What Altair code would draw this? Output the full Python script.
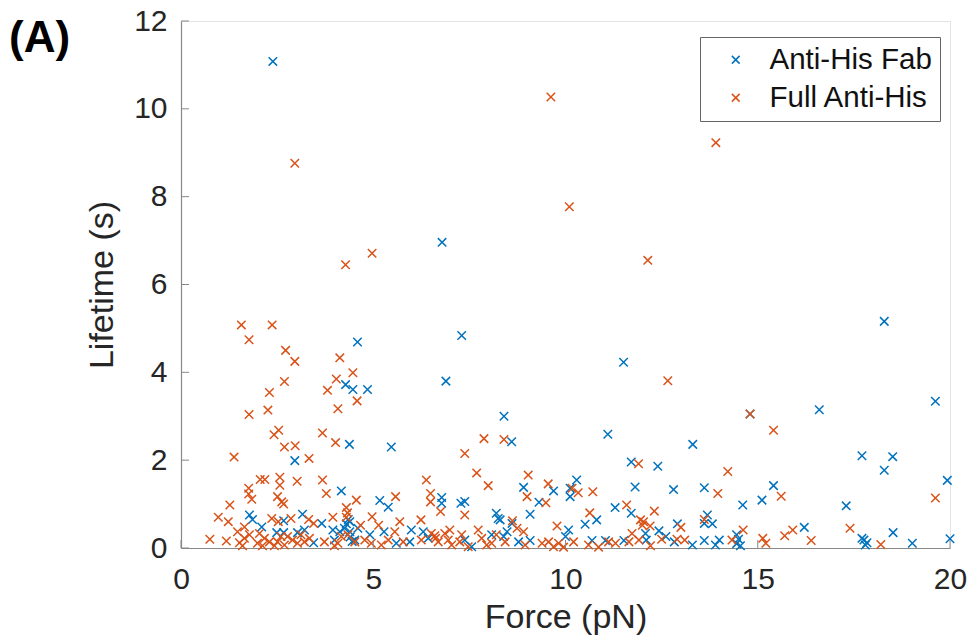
import altair as alt
import pandas as pd

# ---- data ----
fab_force = [2.39, 6.79, 7.30, 4.59, 6.89, 4.28, 4.47, 4.85, 11.51, 18.29, 19.62, 16.60, 14.80, 8.40,
             11.10, 8.60, 4.38, 13.31, 5.47, 17.71, 18.51, 2.96, 11.71, 12.40, 18.29, 19.93, 10.29,
             15.41, 11.81, 8.91, 13.61, 10.12, 12.81, 9.69, 4.17, 10.12, 6.78, 15.11, 5.17, 7.38,
             7.28, 6.78, 9.31, 14.61, 17.30, 5.39, 11.29, 9.08, 11.71, 8.20, 3.16, 1.78, 13.69, 8.25,
             1.86, 10.81, 8.30, 2.67, 4.39, 3.66, 8.61, 13.61, 13.82, 10.51, 12.91, 2.10, 16.21,
             4.60, 3.21, 3.95, 5.99, 10.08, 12.43, 2.49, 2.67, 3.03, 18.52, 4.13, 4.39, 5.28, 6.30,
             8.48, 12.08, 4.91, 8.08, 14.45, 8.39, 10.00, 12.61, 6.43, 17.71, 20.00, 14.50, 3.99,
             7.38, 14.00, 12.10, 17.76, 10.69, 11.04, 11.52, 13.61, 9.08, 5.95, 8.78, 12.83, 3.45,
             17.84, 5.60, 19.02, 14.45, 17.80, 13.30, 13.90, 7.56, 14.55, 4.30, 4.25, 4.35, 4.40,
             4.45, 4.52]
fab_life = [11.08, 6.96, 4.84, 4.69, 3.80, 3.72, 3.61, 3.61, 4.23, 5.16, 3.34, 3.15, 3.05, 3.00,
            2.59, 2.42, 2.36, 2.36, 2.30, 2.10, 2.08, 1.99, 1.96, 1.86, 1.77, 1.54, 1.55,
            1.42, 1.39, 1.38, 1.37, 1.36, 1.33, 1.30, 1.30, 1.17, 1.15, 1.09, 1.08, 1.06,
            1.02, 1.02, 1.04, 0.98, 0.96, 0.93, 0.92, 0.77, 0.79, 0.79, 0.77, 0.75, 0.75, 0.67,
            0.65, 0.64, 0.64, 0.62, 0.60, 0.56, 0.56, 0.56, 0.55, 0.54, 0.55, 0.48, 0.47,
            0.45, 0.41, 0.41, 0.41, 0.41, 0.39, 0.35, 0.35, 0.35, 0.35, 0.37, 0.37, 0.37, 0.37,
            0.37, 0.33, 0.30, 0.30, 0.30, 0.26, 0.26, 0.26, 0.22, 0.22, 0.21, 0.20, 0.18,
            0.18, 0.18, 0.18, 0.18, 0.17, 0.17, 0.17, 0.17, 0.17, 0.14, 0.14, 0.14, 0.12,
            0.12, 0.11, 0.11, 0.10, 0.07, 0.07, 0.07, 0.03, 0.05, 0.55, 0.45, 0.65, 0.25,
            0.15, 0.18]

full_force = [9.62, 13.91, 2.96, 10.10, 4.97, 12.14, 4.28, 1.57, 2.37, 1.77, 2.72, 4.13, 2.96, 4.47,
              4.04, 12.66, 2.69, 3.81, 2.30, 4.58, 4.08, 2.26, 14.80, 1.77, 15.41, 2.54, 3.68, 2.42,
              7.88, 8.40, 4.02, 2.97, 2.69, 7.38, 1.38, 3.33, 11.90, 14.22, 7.69, 9.03, 2.57, 2.06,
              2.18, 6.38, 3.68, 3.02, 9.55, 2.57, 7.99, 1.76, 10.17, 10.33, 10.71, 6.49, 1.76, 3.78,
              13.96, 5.58, 15.61, 2.51, 9.00, 19.62, 1.84, 4.56, 6.49, 2.62, 9.49, 2.67, 1.27, 11.59,
              4.30, 12.31, 6.75, 10.63, 4.33, 7.38, 4.30, 4.97, 0.97, 3.95, 2.36, 2.86, 3.32, 13.61,
              11.95, 6.24, 8.62, 1.23, 2.53, 5.69, 12.03, 3.45, 5.14, 4.67, 12.00, 9.78, 12.20, 1.65,
              13.00, 8.74, 17.40, 14.62, 15.91, 6.99, 7.73, 1.47, 5.56, 8.91, 11.73, 6.86, 7.30, 8.20,
              15.70, 6.60, 6.62, 15.13, 12.50, 12.90, 13.10, 0.75, 14.33, 16.39, 1.18, 15.21, 18.20,
              1.52, 1.65, 1.60, 2.04, 2.17, 1.99, 2.12, 2.30, 2.51, 2.69, 2.77, 2.90, 3.03, 3.12,
              3.21, 3.34, 3.73, 3.99, 1.78, 2.43, 2.60,
              4.08, 4.17, 4.34, 4.78, 4.95, 5.21, 5.78, 6.25, 6.51, 6.69, 6.95, 7.04, 7.25, 7.47,
              7.82, 7.95, 8.08, 4.52, 5.39,
              8.43, 8.95, 9.39, 9.56, 9.69, 9.82, 9.95, 10.21, 10.60, 10.86, 11.12, 11.30, 11.65,
              11.91, 12.21]
full_life = [10.27, 9.23, 8.76, 7.77, 6.71, 6.55, 6.45, 5.08, 5.08, 4.74, 4.50, 4.33, 4.25, 3.99,
             3.85, 3.81, 3.79, 3.59, 3.54, 3.35, 3.17, 3.14, 3.05, 3.04, 2.68, 2.68, 2.62, 2.58,
             2.49, 2.47, 2.40, 2.33, 2.30, 2.15, 2.07, 2.04, 1.92, 1.74, 1.71, 1.66, 1.61, 1.56,
             1.56, 1.55, 1.55, 1.52, 1.46, 1.43, 1.42, 1.36, 1.36, 1.26, 1.28, 1.24, 1.23, 1.24,
             1.24, 1.17, 1.18, 1.17, 1.17, 1.14, 1.11, 1.09, 1.05, 1.05, 1.03, 1.00, 0.98, 0.98,
             0.92, 0.84, 0.83, 0.80, 0.80, 0.75, 0.70, 0.71, 0.70, 0.70, 0.67, 0.67, 0.65, 0.65,
             0.64, 0.64, 0.62, 0.60, 0.60, 0.60, 0.60, 0.56, 0.52, 0.52, 0.52, 0.50, 0.50, 0.48,
             0.47, 0.45, 0.45, 0.41, 0.41, 0.41, 0.41, 0.37, 0.37, 0.37, 0.33, 0.33, 0.30, 0.30,
             0.28, 0.28, 0.22, 0.22, 0.20, 0.20, 0.18, 0.20, 0.18, 0.17, 0.16, 0.11, 0.08,
             0.12, 0.22, 0.05, 0.33, 0.22, 0.11, 0.05, 0.14, 0.14, 0.07, 0.26, 0.18, 0.11, 0.30,
             0.14, 0.22, 0.14, 0.05, 0.30, 0.05, 0.26,
             0.11, 0.26, 0.30, 0.18, 0.11, 0.07, 0.14, 0.18, 0.33, 0.14, 0.18, 0.07, 0.14, 0.03,
             0.22, 0.07, 0.11, 0.14, 0.18,
             0.14, 0.07, 0.11, 0.14, 0.03, 0.11, 0.02, 0.14, 0.07, 0.02, 0.14, 0.11, 0.14,
             0.18, 0.05]

series_names = ["Anti-His Fab", "Full Anti-His"]
series_colors = ["#0072BD", "#D95319"]
x_ticks = [0, 5, 10, 15, 20]
y_ticks = [0, 2, 4, 6, 8, 10, 12]

df = pd.concat([
    pd.DataFrame({"Force": fab_force, "Lifetime": fab_life, "Series": series_names[0]}),
    pd.DataFrame({"Force": full_force, "Lifetime": full_life, "Series": series_names[1]}),
], ignore_index=True)
df["order"] = range(len(df))

W, H = 769, 527
FONT = "Liberation Sans"
XPATH = "M-1,-1L1,1M-1,1L1,-1"

xscale = alt.Scale(domain=[0, 20], nice=False, zero=False)
yscale = alt.Scale(domain=[0, 12], nice=False, zero=False)

points = alt.Chart(df).mark_point(
    shape=XPATH, filled=False, size=72, strokeWidth=1.5, opacity=1
).encode(
    x=alt.X("Force:Q", scale=xscale, title="Force (pN)",
            axis=alt.Axis(values=x_ticks, format="d", grid=False, tickSize=0,
                          labelFlush=False, labelPadding=16, titlePadding=6)),
    y=alt.Y("Lifetime:Q", scale=yscale, title="Lifetime (s)",
            axis=alt.Axis(values=y_ticks, format="d", grid=False, tickSize=0,
                          labelFlush=False, labelPadding=14, titlePadding=14)),
    color=alt.Color("Series:N", scale=alt.Scale(domain=series_names, range=series_colors),
                    title=None,
                    legend=alt.Legend(orient="none", legendX=519, legendY=16,
                                      symbolType=XPATH, symbolSize=60, symbolStrokeWidth=1.5,
                                      symbolOffset=13, labelOffset=19, labelFontSize=29.5,
                                      labelLimit=400,
                                      labelFont=FONT, labelColor="#111111", rowPadding=7,
                                      padding=8, strokeColor="#666666", fillColor="white")),
    order=alt.Order("order:Q"),
)

ydf = pd.DataFrame({"v": y_ticks})
xdf = pd.DataFrame({"v": x_ticks})
yt = alt.Chart(ydf).mark_rule(color="#888888", strokeWidth=1).encode(
    y=alt.Y("v:Q", scale=yscale), x=alt.value(0), x2=alt.value(8))
xt = alt.Chart(xdf).mark_rule(color="#888888", strokeWidth=1).encode(
    x=alt.X("v:Q", scale=xscale), y=alt.value(H), y2=alt.value(H - 8))

label = alt.Chart(pd.DataFrame({"t": ["(A)"]})).mark_text(
    font=FONT, fontSize=44, fontWeight="bold", align="left", baseline="middle", color="black"
).encode(x=alt.value(-172), y=alt.value(18), text="t:N")

chart = alt.layer(points, yt, xt, label).properties(
    width=W, height=H,
    autosize=alt.AutoSizeParams(type="none"),
    padding={"left": 181, "top": 21, "right": 21, "bottom": 96},
).configure_view(
    stroke="#e4e4e4", strokeWidth=1
).configure_axis(
    domainColor="#888888", domainWidth=1.2,
    labelFont=FONT, labelFontSize=30, labelColor="#262626",
    titleFont=FONT, titleFontSize=34, titleColor="#262626", titleFontWeight="normal",
)

chart.save("out.html", embed_options={"renderer": "svg", "actions": False})
